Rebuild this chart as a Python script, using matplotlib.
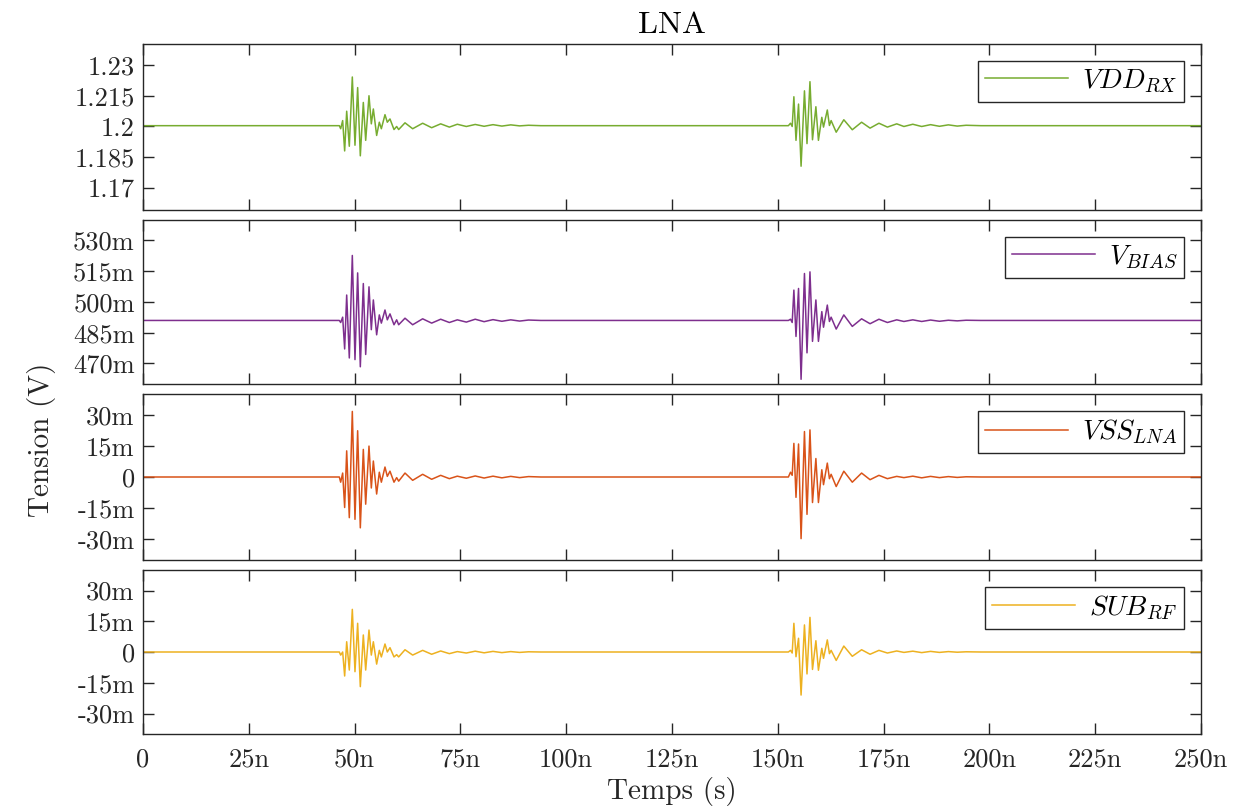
import numpy as np
import matplotlib
matplotlib.use('Agg')
import matplotlib.pyplot as plt

plt.rcParams['font.family'] = 'serif'
plt.rcParams['font.serif'] = ['cmr10', 'DejaVu Serif']
plt.rcParams['mathtext.fontset'] = 'cm'
plt.rcParams['axes.unicode_minus'] = False

# time of the ringing extrema (ns), shared by all four traces
t_burst1 = [46.39, 46.71, 47.18, 47.65, 48.13, 48.75, 49.46, 50.09, 50.72, 51.35,
            52.06, 52.62, 53.40, 53.95, 54.43, 55.21, 55.84, 56.32, 57.18, 57.73,
            58.36, 59.31, 59.94, 60.41, 61.91, 63.72, 66.08, 68.21, 70.34, 72.39,
            74.27, 76.4, 78.5, 80.6, 82.7, 84.8, 86.9, 89.0, 91.1, 94.0]
t_burst2 = [152.5, 153.0, 153.4, 153.8, 154.3, 154.9, 155.5, 156.3, 156.9, 157.6,
            158.2, 159.0, 159.6, 160.4, 160.8, 161.7, 162.2, 162.6, 163.8, 165.6,
            167.6, 169.8, 171.8, 173.9, 175.9, 178.1, 179.8, 181.9, 184.0, 186.1,
            188.2, 190.3, 192.4, 194.5, 198.0]
t_end = 250.0

# VDD_RX (V)
vdd_base = 1.2004
vdd_b1 = [1.2004, 1.1989, 1.2029, 1.1880, 1.2075, 1.1903, 1.2243, 1.1908, 1.2191, 1.1856,
          1.2118, 1.1932, 1.2151, 1.2013, 1.2086, 1.1956, 1.2021, 1.1989, 1.2058, 1.2021,
          1.2037, 1.1985, 1.2000, 1.1985, 1.2018, 1.1989, 1.2016, 1.1994, 1.2013, 1.1997,
          1.2011, 1.2000, 1.2010, 1.2001, 1.2009, 1.2002, 1.2008, 1.2003, 1.2006, 1.2004]
vdd_b2 = [1.2004, 1.2016, 1.2000, 1.2146, 1.1932, 1.2110, 1.1805, 1.2175, 1.1916, 1.2220,
          1.1935, 1.2097, 1.1932, 1.2045, 1.1997, 1.2081, 1.2005, 1.2029, 1.1972, 1.2033,
          1.1984, 1.2021, 1.1992, 1.2016, 1.1997, 1.2013, 1.2000, 1.2011, 1.2000, 1.2009,
          1.2001, 1.2008, 1.2002, 1.2006, 1.2004]

# V_BIAS (mV)
bias_base = 491.0
bias_b1 = [491, 490, 492.6, 477.1, 503.4, 472.7, 522.7, 471.9, 514.2, 468.4,
           509, 474.4, 507.4, 486.5, 501, 484, 493.7, 489.7, 496.1, 491.3,
           494.2, 488.9, 491.3, 488.9, 492.1, 488.9, 491.8, 489.7, 491.6, 490,
           491.3, 490.2, 491.6, 490.4, 491.4, 490.6, 491.3, 490.7, 491.2, 491]
bias_b2 = [491, 491.6, 490, 505.8, 483.2, 506.6, 462.3, 513.9, 475.2, 514.7,
           480.8, 501, 480.8, 495.3, 487.7, 498.5, 490.5, 492.6, 486.8, 493.7,
           488.1, 491.8, 489.4, 491.6, 490, 491.3, 490.5, 491.3, 490.5, 491.2,
           490.6, 491.1, 490.8, 491.1, 491]

# VSS_LNA (mV)
vss_base = 0.0
vss_b1 = [0, -2.5, 1.9, -14.7, 12.6, -19.6, 31.6, -20.4, 22.3, -24.5,
          13.3, -13.1, 14.9, -5.3, 7.7, -8.2, 2.3, -2.5, 4.8, 0.3,
          2.8, -2.5, -0.3, -2.0, 1.9, -1.6, 1.3, -1.1, 0.8, -0.8,
          0.4, -0.6, 0.5, -0.5, 0.4, -0.4, 0.3, -0.3, 0.2, 0]
vss_b2 = [0, 2.3, 0.8, 16.2, -9.8, 15.9, -29.7, 21.9, -18, 22.7,
          -12.3, 8.9, -12.3, 3.5, -3.7, 6.7, -0.8, 1.3, -4.6, 2.8,
          -2.5, 1.9, -1.3, 0.8, -0.8, 0.3, -0.3, 0.4, -0.4, 0.3,
          -0.3, 0.2, -0.2, 0.1, 0]

# SUB_RF (mV)
sub_base = 0.0
sub_b1 = [0, -1.5, 0, -11.7, 5.0, -8.8, 20.8, -9.6, 14.0, -16.9,
          8.3, -8.8, 10.7, -1.5, 5.0, -5.9, 0.8, -2.4, 3.9, 0,
          2.1, -2.4, -1.3, -2.4, 1.1, -1.5, 0.8, -1.1, 0.5, -0.8,
          0.2, -0.5, 0.4, -0.4, 0.3, -0.3, 0.2, -0.2, 0.1, 0]
sub_b2 = [0, 0.8, -0.5, 14, -2.3, 6.7, -21, 13.2, -10.7, 16.9,
          -8.5, 5.5, -8.9, 1.8, -3.1, 5.9, -0.8, 0.8, -4.1, 2.9,
          -2.1, 1.1, -1.1, 0.8, -0.5, 0.5, -0.2, 0.4, -0.3, 0.3,
          -0.2, 0.2, -0.1, 0.1, 0]

x_ticks = [0, 25, 50, 75, 100, 125, 150, 175, 200, 225, 250]
x_labels = ['0', '25n', '50n', '75n', '100n', '125n', '150n', '175n', '200n', '225n', '250n']

panels = [
    dict(base=vdd_base, b1=vdd_b1, b2=vdd_b2, color='#77AC30', label='$VDD_{RX}$',
         ylim=(1.159, 1.2405), yticks=[1.17, 1.185, 1.2, 1.215, 1.23],
         ylabels=['1.17', '1.185', '1.2', '1.215', '1.23']),
    dict(base=bias_base, b1=bias_b1, b2=bias_b2, color='#7E2F8E', label='$V_{BIAS}$',
         ylim=(460, 540), yticks=[470, 485, 500, 515, 530],
         ylabels=['470m', '485m', '500m', '515m', '530m']),
    dict(base=vss_base, b1=vss_b1, b2=vss_b2, color='#D95319', label='$VSS_{LNA}$',
         ylim=(-40, 40), yticks=[-30, -15, 0, 15, 30],
         ylabels=['-30m', '-15m', '0', '15m', '30m']),
    dict(base=sub_base, b1=sub_b1, b2=sub_b2, color='#EDB120', label='$SUB_{RF}$',
         ylim=(-40, 40), yticks=[-30, -15, 0, 15, 30],
         ylabels=['-30m', '-15m', '0', '15m', '30m']),
]

W, H = 1253, 809
fig = plt.figure(figsize=(W / 100, H / 100), dpi=100)
edge = '#262626'
left, right = 143, 1201
rows = [(44, 210), (220, 384), (394, 560), (570, 734)]

for i, (p, (top, bot)) in enumerate(zip(panels, rows)):
    ax = fig.add_axes([left / W, 1 - bot / H, (right - left) / W, (bot - top) / H])
    t = [0] + t_burst1 + t_burst2 + [t_end]
    v = [p['base']] + p['b1'] + p['b2'] + [p['base']]
    ax.plot(t, v, color=p['color'], lw=1.1, label=p['label'])
    ax.set_xlim(0, 250)
    ax.set_ylim(*p['ylim'])
    ax.set_yticks(p['yticks'])
    ax.set_yticklabels(p['ylabels'])
    ax.set_xticks(x_ticks)
    if i == 3:
        ax.set_xticklabels(x_labels)
    else:
        ax.set_xticklabels([])
    ax.tick_params(direction='in', top=True, right=True, length=8, width=1,
                   labelsize=19, color=edge, labelcolor=edge)
    ax.tick_params(axis='x', pad=10)
    ax.tick_params(axis='y', pad=6)
    for s in ax.spines.values():
        s.set_color(edge)
        s.set_linewidth(1.0)
    leg = ax.legend(loc='upper right', fontsize=20, handlelength=3.0,
                    fancybox=False, framealpha=1, borderaxespad=0.6,
                    borderpad=0.25, handletextpad=0.5)
    leg.get_frame().set_edgecolor(edge)
    leg.get_frame().set_linewidth(1.0)
    if i == 0:
        ax.set_title('LNA', fontsize=23, color='black', pad=8)
    if i == 3:
        ax.set_xlabel('Temps (s)', fontsize=21, color=edge, labelpad=4)

fig.text(42 / W, 1 - 440 / H, 'Tension (V)', rotation=90, fontsize=21,
         color=edge, ha='center', va='center')

fig.savefig('out.png', dpi=100)
